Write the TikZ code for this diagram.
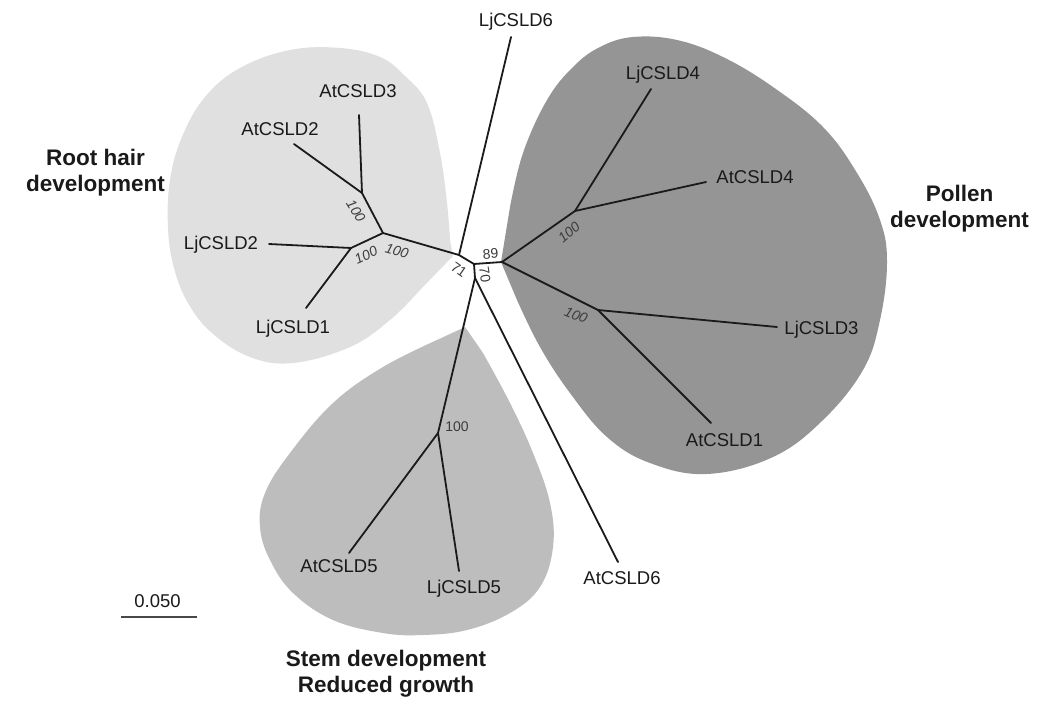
\documentclass[tikz,border=0pt]{standalone}
\usepackage{fontspec}
\setmainfont{Liberation Sans}
\definecolor{rootfill}{HTML}{E0E0E0}
\definecolor{stemfill}{HTML}{BDBDBD}
\definecolor{pollfill}{HTML}{959595}
\definecolor{ink}{HTML}{1A1A1A}
\begin{document}
\begin{tikzpicture}[x=1pt,y=-1pt,
  branch/.style={line width=1.8pt, draw=ink, line cap=round},
  leaf/.style={font=\fontsize{18.5}{22}\selectfont, text=ink, inner sep=0pt},
  boot/.style={font=\fontsize{14}{16}\selectfont, text=ink!85, inner sep=0pt},
  booti/.style={font=\fontsize{14}{16}\selectfont\itshape, text=ink!85, inner sep=0pt},
  grp/.style={font=\fontsize{22.5}{26}\selectfont\bfseries, align=center, inner sep=0pt, text=ink}
]
\useasboundingbox (0,0) rectangle (1043,702);
\fill[white] (0,0) rectangle (1043,702);

% clade backgrounds
\fill[rootfill] (453,256) -- plot[smooth, tension=0.65] coordinates {(420,290) (390,320) (350,347) (293,363) (250,357) (212,333) (188,303) (174,268) (168,228) (170,180) (182,137) (205,97) (240,68) (290,50) (340,48) (380,57) (405,76) (427,103) (440,153) (447,203) (450,240)} -- cycle;
\fill[pollfill] (501,262) -- plot[smooth, tension=0.65] coordinates {(510,207) (523,153) (547,100) (573,67) (600,47) (633,37) (677,40) (723,57) (773,87) (823,127) (857,173) (880,220) (887,262) (880,320) (863,370) (823,420) (773,457) (707,474) (650,463) (607,437) (570,393) (540,347) (517,300)} -- cycle;
\fill[stemfill] (465,327) -- plot[smooth, tension=0.65] coordinates {(483,353) (510,403) (533,453) (550,503) (553,547) (540,587) (510,613) (467,630) (423,635) (383,633) (333,620) (293,593) (270,560) (260,527) (265,493) (290,453) (333,403) (383,367) (437,340)} -- cycle;

% internal nodes
\coordinate (N1) at (459,255);
\coordinate (N2) at (474,264);
\coordinate (N3) at (502,262);
\coordinate (N4) at (475,278);
\coordinate (R1) at (383,233);
\coordinate (R2) at (362,193);
\coordinate (R3) at (351,248);
\coordinate (P1) at (575,211);
\coordinate (P2) at (598,310);
\coordinate (S1) at (438,433);
% leaf tips
\coordinate (tLj6) at (511,37);
\coordinate (tAt3) at (359,115);
\coordinate (tAt2) at (294,144);
\coordinate (tLj2) at (269,244);
\coordinate (tLj1) at (306,308);
\coordinate (tLj4) at (651,89);
\coordinate (tAt4) at (706,182);
\coordinate (tLj3) at (777,327);
\coordinate (tAt1) at (711,423);
\coordinate (tAt5) at (349,553);
\coordinate (tLj5) at (459,571);
\coordinate (tAt6) at (618,562);

% branches
\draw[branch] (N1) -- (tLj6);
\draw[branch] (N1) -- (R1);
\draw[branch] (N1) -- (N2);
\draw[branch] (N2) -- (N3);
\draw[branch] (N2) -- (N4);
\draw[branch] (N4) -- (S1);
\draw[branch] (N4) -- (tAt6);
\draw[branch] (R1) -- (R2);
\draw[branch] (R1) -- (R3);
\draw[branch] (R2) -- (tAt3);
\draw[branch] (R2) -- (tAt2);
\draw[branch] (R3) -- (tLj2);
\draw[branch] (R3) -- (tLj1);
\draw[branch] (N3) -- (P1);
\draw[branch] (N3) -- (P2);
\draw[branch] (P1) -- (tLj4);
\draw[branch] (P1) -- (tAt4);
\draw[branch] (P2) -- (tLj3);
\draw[branch] (P2) -- (tAt1);
\draw[branch] (S1) -- (tAt5);
\draw[branch] (S1) -- (tLj5);

% leaf labels
\node[leaf] (lLj6) at (516,22) {LjCSLD6};
\node[leaf] (lAt3) at (358,91) {AtCSLD3};
\node[leaf] (lAt2) at (280,129) {AtCSLD2};
\node[leaf] (lLj2) at (221,245) {LjCSLD2};
\node[leaf] (lLj1) at (293,329) {LjCSLD1};
\node[leaf] (lLj4) at (663,74.5) {LjCSLD4};
\node[leaf] (lAt4) at (755,177.5) {AtCSLD4};
\node[leaf] (lLj3) at (821.5,330) {LjCSLD3};
\node[leaf] (lAt1) at (724.5,440) {AtCSLD1};
\node[leaf] (lAt5) at (339,566) {AtCSLD5};
\node[leaf] (lLj5) at (464,589) {LjCSLD5};
\node[leaf] (lAt6) at (622,578) {AtCSLD6};

% bootstrap values
\node[booti, rotate=-58] (b1) at (356,211) {100};
\node[booti, rotate=25] (b2) at (366,255) {100};
\node[booti, rotate=-16] (b3) at (397,251) {100};
\node[booti, rotate=40] (b4) at (569,232) {100};
\node[booti, rotate=-22] (b5) at (576,315) {100};
\node[boot] (b6) at (457,426.5) {100};
\node[boot, rotate=-35] (b71) at (459,270) {71};
\node[boot, rotate=-82] (b70) at (485,275) {70};
\node[boot, rotate=4] (b89) at (490.5,254) {89};

% group labels (anchor base = baseline of last line)
\node[grp, anchor=base] (gRoot) at (95.5,191) {Root hair\\development};
\node[grp, anchor=base] (gPoll) at (959.5,227) {Pollen\\development};
\node[grp, anchor=base] (gStem) at (386,692) {Stem development\\Reduced growth};

% scale bar
\coordinate (sbL) at (121,617);
\coordinate (sbR) at (197,617);
\draw[line width=1.8pt, draw=ink!80] (sbL) -- (sbR);
\node[leaf] (sbT) at (157.5,601.5) {0.050};
\end{tikzpicture}
\end{document}
